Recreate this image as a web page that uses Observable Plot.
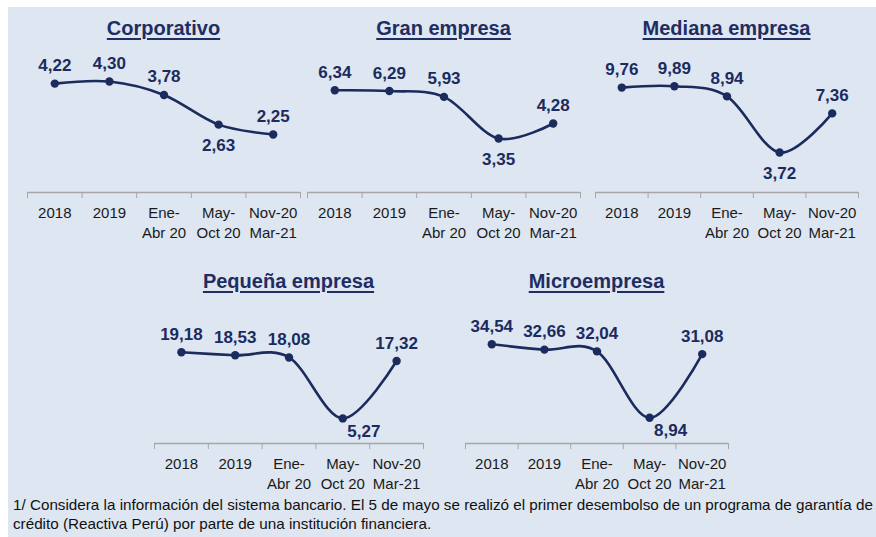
<!DOCTYPE html>
<html><head><meta charset="utf-8">
<script src="https://cdn.jsdelivr.net/npm/d3@7"></script>
<script src="https://cdn.jsdelivr.net/npm/@observablehq/plot@0.6"></script>
<style>
body{margin:0;width:876px;height:537px;overflow:hidden;background:#fff;font-family:"Liberation Sans",Arial,sans-serif;position:relative}
#bg{position:absolute;left:8px;top:7px;right:0;bottom:0;background:#dde6f1}
.title{position:absolute;transform:translateX(-50%);font-weight:bold;font-size:20px;line-height:20px;color:#1f2d63;text-decoration:underline;text-underline-offset:3px;text-decoration-thickness:2px;white-space:nowrap}
.panel{position:absolute}
.note{position:absolute;left:13px;font-size:14.5px;line-height:16px;color:#111;white-space:nowrap;transform-origin:left center}
</style></head><body>
<div id="bg"></div>
<script>
const categories = ["2018", "2019", "Ene-\nAbr 20", "May-\nOct 20", "Nov-20\nMar-21"];
const corporativo = [4.22, 4.30, 3.78, 2.63, 2.25];
const granEmpresa = [6.34, 6.29, 5.93, 3.35, 4.28];
const medianaEmpresa = [9.76, 9.89, 8.94, 3.72, 7.36];
const pequenaEmpresa = [19.18, 18.53, 18.08, 5.27, 17.32];
const microempresa = [34.54, 32.66, 32.04, 8.94, 31.08];
const titles = ["Corporativo", "Gran empresa", "Mediana empresa", "Pequeña empresa", "Microempresa"];
const axisMax = [5, 8, 12, 25, 40];
const note1 = "1/ Considera la información del sistema bancario. El 5 de mayo se realizó el primer desembolso de un programa de garantía de";
const note2 = "crédito (Reactiva Perú) por parte de una institución financiera.";

const series = [corporativo, granEmpresa, medianaEmpresa, pequenaEmpresa, microempresa];

// layout (page pixels)
const layout = [
  {x0: 27,  x1: 300, axisY: 191.5, h: 129, titleTop: 18,  row: 0},
  {x0: 307, x1: 580, axisY: 191.5, h: 129, titleTop: 18,  row: 0},
  {x0: 595, x1: 858, axisY: 191.5, h: 129, titleTop: 18,  row: 0},
  {x0: 154, x1: 423, axisY: 443,   h: 119, titleTop: 271, row: 1},
  {x0: 465, x1: 728, axisY: 443,   h: 115, titleTop: 271, row: 1}
];
const belowIndex = 3; // label of the 4th period sits under its point

const navy = "#1c2b5e";
const fmt = v => v.toFixed(2).replace(".", ",");
const mT = 40, mB = 55, mL = 8, mR = 8;

series.forEach((vals, k) => {
  const L = layout[k];
  const data = vals.map((v, i) => ({i: i + 0.5, idx: i, v}));
  const above = data.filter(d => d.idx !== belowIndex);
  const below = data.filter(d => d.idx === belowIndex);
  const chart = Plot.plot({
    width: L.x1 - L.x0 + mL + mR,
    height: mT + L.h + mB,
    marginTop: mT, marginBottom: mB, marginLeft: mL, marginRight: mR,
    style: {background: "transparent", overflow: "visible", color: "#a6a6a6", fontFamily: "Liberation Sans, Arial, sans-serif"},
    x: {domain: [0, categories.length], ticks: d3.range(categories.length + 1), tickSize: 6, tickFormat: () => "", label: null},
    y: {domain: [0, axisMax[k]], axis: null},
    marks: [
      Plot.ruleY([0], {stroke: "#a6a6a6", strokeWidth: 1.5}),
      Plot.line(data, {x: "i", y: "v", curve: "cardinal", stroke: navy, strokeWidth: 2.6}),
      Plot.dot(data, {x: "i", y: "v", r: 4.2, fill: navy}),
      Plot.text(above, {x: "i", y: "v", text: d => fmt(d.v), dy: -18, fill: navy, fontWeight: "bold", fontSize: 17}),
      Plot.text(below, {x: "i", y: "v", text: d => fmt(d.v), dy: L.row ? 13 : 21, dx: L.row ? 21 : 0, fill: navy, fontWeight: "bold", fontSize: 17}),
      Plot.text(categories, {x: (d, i) => i + 0.5, frameAnchor: "bottom", lineAnchor: "top", dy: 11, lineHeight: 1.33, fontSize: 15, fill: "#1a1a1a"})
    ]
  });
  chart.classList.add("panel");
  chart.style.left = (L.x0 - mL) + "px";
  chart.style.top = (L.axisY - L.h - mT) + "px";
  document.body.appendChild(chart);

  const t = document.createElement("div");
  t.className = "title";
  t.textContent = titles[k];
  t.style.left = ((L.x0 + L.x1) / 2) + "px";
  t.style.top = L.titleTop + "px";
  document.body.appendChild(t);
});

const n1 = document.createElement("div");
n1.className = "note"; n1.textContent = note1; n1.style.top = "497px";
const n2 = document.createElement("div");
n2.className = "note"; n2.textContent = note2; n2.style.top = "516px";
document.body.appendChild(n1); document.body.appendChild(n2);
const w = n1.getBoundingClientRect().width;
const s = 860 / w;
n1.style.transform = `scaleX(${s})`;
n2.style.transform = `scaleX(${s})`;
</script>
</body></html>
